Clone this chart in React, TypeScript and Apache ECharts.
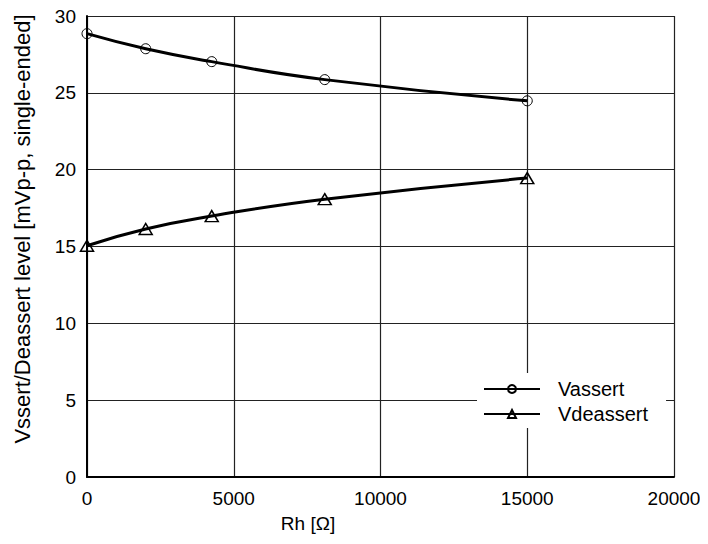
import React, { useEffect, useRef } from "react";
import * as echarts from "echarts";

const rhValues = [0, 2000, 4250, 8100, 15000];
const vassert = [28.85, 27.87, 27.03, 25.86, 24.48];
const vdeassert = [15.05, 16.14, 16.98, 18.08, 19.45];
const xTicks = [0, 5000, 10000, 15000, 20000];
const yTicks = [0, 5, 10, 15, 20, 25, 30];
const xTitle = "Rh [Ω]";
const yTitle = "Vssert/Deassert level [mVp-p, single-ended]";

const FONT = "'Liberation Sans', Arial, Helvetica, sans-serif";

export default function App() {
  const ref = useRef<HTMLDivElement>(null);
  useEffect(() => {
    const chart = echarts.init(ref.current!, null, { renderer: "svg" });
    chart.setOption({
      animation: false,
      backgroundColor: "#fff",
      textStyle: { fontFamily: FONT, color: "#000" },
      grid: { left: 87, top: 16, right: 34, bottom: 67, containLabel: false },
      graphic: [
        {
          type: "text",
          x: 308,
          y: 523,
          style: {
            text: xTitle,
            fontSize: 19,
            fontFamily: FONT,
            fill: "#000",
            align: "center",
            verticalAlign: "middle",
          },
        },
        {
          type: "text",
          x: 22,
          y: 229,
          rotation: Math.PI / 2,
          style: {
            text: yTitle,
            fontSize: 22,
            fontFamily: FONT,
            fill: "#000",
            align: "center",
            verticalAlign: "middle",
          },
        },
      ],
      xAxis: {
        type: "value",
        min: xTicks[0],
        max: xTicks[xTicks.length - 1],
        interval: 5000,
        axisLine: { show: true, onZero: false, lineStyle: { color: "#000", width: 2 } },
        axisTick: { show: false },
        axisLabel: {
          fontSize: 19,
          color: "#000",
          margin: 12,
          fontFamily: FONT,
          formatter: (v: number) => String(v),
        },
        splitLine: { show: true, lineStyle: { color: "#222", width: 1.2 } },
      },
      yAxis: {
        type: "value",
        min: yTicks[0],
        max: yTicks[yTicks.length - 1],
        interval: 5,
        axisLine: { show: true, onZero: false, lineStyle: { color: "#000", width: 2 } },
        axisTick: { show: false },
        axisLabel: {
          fontSize: 19,
          color: "#000",
          margin: 11,
          fontFamily: FONT,
          formatter: (v: number) => String(v),
        },
        splitLine: { show: true, lineStyle: { color: "#222", width: 1.2 } },
      },
      legend: {
        left: 477,
        top: 373,
        orient: "vertical",
        backgroundColor: "#fff",
        padding: [6, 18, 4, 6],
        itemWidth: 56,
        itemHeight: 10,
        itemGap: 5,
        textStyle: { fontSize: 20, color: "#000", fontFamily: FONT, padding: [0, 0, 0, 13] },
        data: ["Vassert", "Vdeassert"],
      },
      series: [
        {
          name: "Vassert",
          type: "line",
          smooth: true,
          data: rhValues.map((x, i) => [x, vassert[i]]),
          symbol: "circle",
          symbolSize: 10,
          lineStyle: { color: "#000", width: 3 },
          itemStyle: { color: "rgba(255,255,255,0)", borderColor: "#000", borderWidth: 1 },
          z: 5,
        },
        {
          name: "Vdeassert",
          type: "line",
          smooth: true,
          data: rhValues.map((x, i) => [x, vdeassert[i]]),
          symbol: "triangle",
          symbolSize: [13, 11],
          lineStyle: { color: "#000", width: 3 },
          itemStyle: { color: "rgba(255,255,255,0)", borderColor: "#000", borderWidth: 1.5 },
          z: 5,
        },
      ],
    });
    return () => chart.dispose();
  }, []);
  return <div ref={ref} style={{ width: 708, height: 544, margin: -8 }} />;
}
